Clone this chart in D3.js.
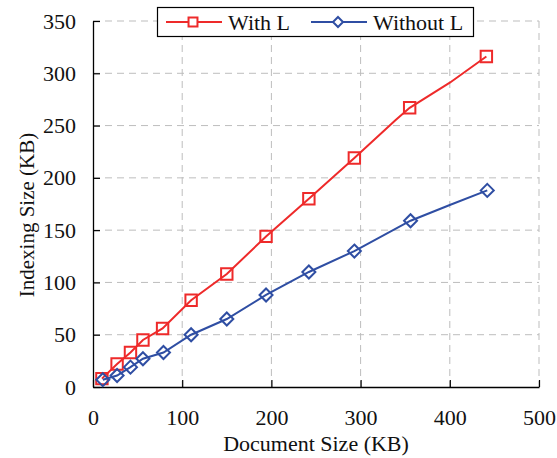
<!DOCTYPE html>
<html>
<head>
<meta charset="utf-8">
<script src="https://cdn.jsdelivr.net/npm/d3@7.9.0/dist/d3.min.js"></script>
<style>
  body { margin: 0; background: #fff; }
  svg text { font-family: "Liberation Serif", "Times New Roman", serif !important; }
</style>
</head>
<body>
<svg id="chart" width="557" height="458"></svg>
<script>
// series data (points with marked=0 carry no marker)
const withX = [10, 27, 42, 56, 78, 110, 150, 194, 242, 293, 339, 355, 400, 441];
const withY = [8, 22, 33, 45, 56, 83, 108, 144, 180, 219, 255, 267, 291, 316];
const withMarked = [1, 1, 1, 1, 1, 1, 1, 1, 1, 1, 0, 1, 0, 1];

const withoutX = [11, 27, 42, 56, 79, 110, 150, 194, 242, 293, 356, 400, 442];
const withoutY = [7, 11, 19, 27, 33, 50, 65, 88, 110, 130, 159, 174, 188];
const withoutMarked = [1, 1, 1, 1, 1, 1, 1, 1, 1, 1, 1, 0, 1];

const xTicks = [0, 100, 200, 300, 400, 500];
const yTicks = [0, 50, 100, 150, 200, 250, 300, 350];
const seriesNames = ["With L", "Without L"];

const red = "#ee2a2a", blue = "#2f4ea3";
const serif = "Liberation Serif";

const svg = d3.select("#chart");
const mLeft = 93, mRight = 539, mTop = 21, mBottom = 387;

const x = d3.scaleLinear().domain([0, 500]).range([mLeft, mRight]);
const y = d3.scaleLinear().domain([0, 350]).range([mBottom, mTop]);

// dashed grid
svg.append("g").selectAll("line").data(xTicks.slice(1)).join("line")
  .attr("x1", d => x(d)).attr("x2", d => x(d))
  .attr("y1", mTop).attr("y2", mBottom)
  .attr("stroke", "#bdbdbd").attr("stroke-dasharray", "7,5");
svg.append("g").selectAll("line").data(yTicks.slice(1)).join("line")
  .attr("x1", mLeft).attr("x2", mRight)
  .attr("y1", d => y(d)).attr("y2", d => y(d))
  .attr("stroke", "#bdbdbd").attr("stroke-dasharray", "7,5");

// axes, ticks point inward
const xAxis = svg.append("g").attr("transform", `translate(0,${mBottom})`)
  .call(d3.axisBottom(x).tickValues(xTicks).tickSizeInner(-7).tickSizeOuter(0).tickPadding(22));
const yAxis = svg.append("g").attr("transform", `translate(${mLeft},0)`)
  .call(d3.axisLeft(y).tickValues(yTicks).tickSizeInner(-7).tickSizeOuter(0).tickPadding(17));
[xAxis, yAxis].forEach(a => {
  a.attr("font-family", serif).attr("font-size", 22);
  a.select(".domain").attr("stroke", "#000").attr("stroke-width", 1.3);
  a.selectAll(".tick line").attr("stroke", "#000").attr("stroke-width", 1.2);
  a.selectAll(".tick text").attr("font-family", serif).attr("font-size", 22).attr("fill", "#111");
});

svg.append("text").attr("x", 316).attr("y", 451).attr("text-anchor", "middle")
  .attr("font-family", serif).attr("font-size", 22).attr("fill", "#111")
  .text("Document Size (KB)");
svg.append("text").attr("transform", "translate(34,215) rotate(-90)")
  .attr("text-anchor", "middle")
  .attr("font-family", serif).attr("font-size", 21).attr("fill", "#111")
  .text("Indexing Size (KB)");

const line = d3.line().x(d => x(d.x)).y(d => y(d.y));

function drawSeries(xs, ys, marks, color, shape) {
  const pts = xs.map((v, i) => ({ x: v, y: ys[i], m: marks[i] }));
  svg.append("path").datum(pts).attr("d", line)
    .attr("fill", "none").attr("stroke", color).attr("stroke-width", 2);
  svg.append("g").selectAll("path").data(pts.filter(p => p.m)).join("path")
    .attr("transform", d => `translate(${x(d.x)},${y(d.y)})`)
    .attr("d", shape)
    .attr("fill", "none").attr("stroke", color).attr("stroke-width", 2);
}

const square = d3.symbol().type(d3.symbolSquare).size(130)();
const diamond = "M0,-6.5L6.5,0L0,6.5L-6.5,0Z";
drawSeries(withX, withY, withMarked, red, square);
drawSeries(withoutX, withoutY, withoutMarked, blue, diamond);

// legend
const lg = svg.append("g");
lg.append("rect").attr("x", 157.5).attr("y", 7.5).attr("width", 316).attr("height", 29)
  .attr("fill", "#fff").attr("stroke", "#000").attr("stroke-width", 1.2);
const items = [
  { name: seriesNames[0], color: red, shape: d3.symbol().type(d3.symbolSquare).size(80)(), x0: 166 },
  { name: seriesNames[1], color: blue, shape: "M0,-5L5,0L0,5L-5,0Z", x0: 311 }
];
items.forEach(it => {
  lg.append("line").attr("x1", it.x0).attr("x2", it.x0 + 56).attr("y1", 22).attr("y2", 22)
    .attr("stroke", it.color).attr("stroke-width", 2);
  lg.append("path").attr("transform", `translate(${it.x0 + 27},22)`).attr("d", it.shape)
    .attr("fill", "#fff").attr("stroke", it.color).attr("stroke-width", 2);
  lg.append("text").attr("x", it.x0 + 62).attr("y", 30)
    .attr("font-family", serif).attr("font-size", 22).attr("fill", "#111")
    .text(it.name);
});
</script>
</body>
</html>
